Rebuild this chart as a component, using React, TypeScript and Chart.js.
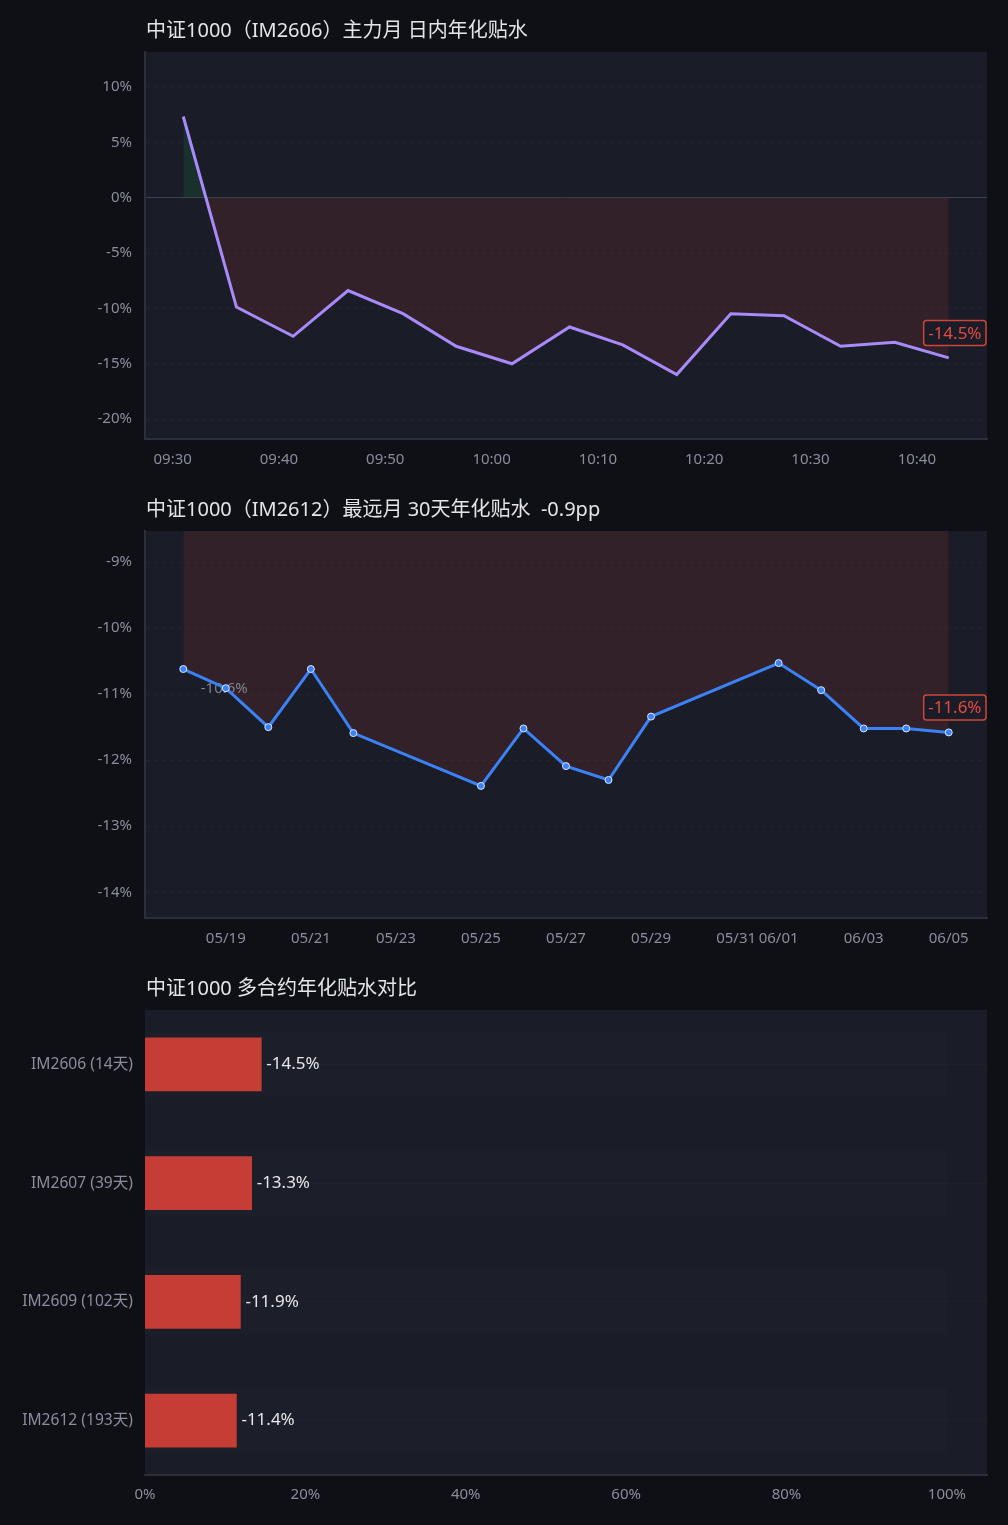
import React, { useEffect, useRef } from 'react';
import { Chart, registerables } from 'chart.js';

Chart.register(...registerables);

const FONT = '"Noto Sans", "Noto Sans CJK SC", sans-serif';
const PAGE_BG = '#0f1015';
const PLOT_BG = '#1a1c27';
const TICK_COLOR = '#8a8d9c';
const TITLE_COLOR = '#e4e4e8';
const AXIS_COLOR = '#2c2f3b';
const RED = '#c53d35';

// ---------- Chart 1: intraday ----------
const intradayTitle = '中证1000（IM2606）主力月 日内年化贴水';
const intradayTimes = [
  '09:31:00', '09:36:00', '09:41:20', '09:46:30', '09:51:40', '09:56:40', '10:01:55', '10:07:20',
  '10:12:20', '10:17:25', '10:22:30', '10:27:30', '10:32:50', '10:37:55', '10:43:00',
];
const intradayValues = [
  7.33, -9.88, -12.52, -8.39, -10.48, -13.42, -15.0, -11.68, -13.3, -15.97, -10.48, -10.66, -13.42, -13.06, -14.47,
];

// ---------- Chart 2: far month, 30 days ----------
const farTitle = '中证1000（IM2612）最远月 30天年化贴水  -0.9pp';
const farYear = 2026;
const farDates = [
  '05/18', '05/19', '05/20', '05/21', '05/22', '05/25', '05/26', '05/27', '05/28', '05/29',
  '06/01', '06/02', '06/03', '06/04', '06/05',
];
const farValues = [
  -10.62, -10.91, -11.5, -10.62, -11.59, -12.39, -11.52, -12.09, -12.3, -11.34, -10.53, -10.94, -11.52, -11.52, -11.58,
];
const farTickDates = ['05/19', '05/21', '05/23', '05/25', '05/27', '05/29', '05/31', '06/01', '06/03', '06/05'];

// ---------- Chart 3: contracts comparison ----------
const compareTitle = '中证1000 多合约年化贴水对比';
const contractLabels = ['IM2606 (14天)', 'IM2607 (39天)', 'IM2609 (102天)', 'IM2612 (193天)'];
const contractValues = [-14.5, -13.3, -11.9, -11.4];
const compareTicks = [0, 20, 40, 60, 80, 100];

// ---------- helpers ----------
const toMin = (s: string) => {
  const [h, m, sec] = s.split(':').map(Number);
  return h * 60 + m + (sec || 0) / 60;
};
const fmtMin = (v: number) => {
  const h = Math.floor(v / 60);
  const m = Math.round(v - h * 60);
  return String(h).padStart(2, '0') + ':' + String(m).padStart(2, '0');
};
const toDay = (s: string) => {
  const [mm, dd] = s.split('/').map(Number);
  return Date.UTC(farYear, mm - 1, dd) / 864e5;
};
const fmtDay = (v: number) => {
  const d = new Date(Math.round(v) * 864e5);
  return String(d.getUTCMonth() + 1).padStart(2, '0') + '/' + String(d.getUTCDate()).padStart(2, '0');
};
const yRange = (vals: number[]) => {
  const mn = Math.min(...vals);
  const mx = Math.max(...vals);
  const pad = Math.max((mx - mn) * 0.25, 2);
  return { min: mn - pad, max: mx + pad };
};
const xRange = (vals: number[]) => {
  const mn = Math.min(...vals);
  const mx = Math.max(...vals);
  const pad = (mx - mn) * 0.05;
  return { min: mn - pad, max: mx + pad };
};

const plotBgPlugin = {
  id: 'plotBg',
  beforeDraw(chart: any) {
    const { ctx, chartArea: a } = chart;
    ctx.save();
    ctx.fillStyle = PLOT_BG;
    ctx.fillRect(a.left, a.top, a.right - a.left, a.bottom - a.top);
    ctx.restore();
  },
};

const titlePlugin = (text: string) => ({
  id: 'panelTitle',
  afterDraw(chart: any) {
    const ctx = chart.ctx;
    ctx.save();
    ctx.font = `20px ${FONT}`;
    ctx.fillStyle = TITLE_COLOR;
    ctx.textAlign = 'left';
    ctx.textBaseline = 'middle';
    ctx.fillText(text, chart.chartArea.left + 1, 31);
    ctx.restore();
  },
});

const lastValuePlugin = (values: number[]) => ({
  id: 'lastValue',
  afterDatasetsDraw(chart: any) {
    const meta = chart.getDatasetMeta(0);
    const pt = meta.data[meta.data.length - 1];
    if (!pt) return;
    const ctx = chart.ctx;
    const text = values[values.length - 1].toFixed(1) + '%';
    ctx.save();
    ctx.font = `17px ${FONT}`;
    const w = ctx.measureText(text).width + 9;
    const h = 25;
    const right = chart.chartArea.right - 1;
    const left = right - w;
    const cy = pt.y - 25;
    const top = cy - h / 2;
    ctx.beginPath();
    if (ctx.roundRect) ctx.roundRect(left, top, w, h, 3);
    else ctx.rect(left, top, w, h);
    ctx.fillStyle = PLOT_BG;
    ctx.fill();
    ctx.lineWidth = 1.5;
    ctx.strokeStyle = '#d0443a';
    ctx.stroke();
    ctx.fillStyle = '#e8493e';
    ctx.textAlign = 'center';
    ctx.textBaseline = 'middle';
    ctx.fillText(text, left + w / 2, cy + 1);
    ctx.restore();
  },
});

const firstValuePlugin = (values: number[]) => ({
  id: 'firstValue',
  beforeDatasetDraw(chart: any, args: any) {
    if (args.index !== 0) return;
    const pt = chart.getDatasetMeta(0).data[0];
    if (!pt) return;
    const ctx = chart.ctx;
    ctx.save();
    ctx.font = `15px ${FONT}`;
    ctx.fillStyle = 'rgba(150,154,170,0.8)';
    ctx.textAlign = 'center';
    ctx.textBaseline = 'middle';
    ctx.fillText(values[0].toFixed(1) + '%', pt.x + 41, pt.y + 20);
    ctx.restore();
  },
});

const barValuePlugin = {
  id: 'barValues',
  afterDatasetsDraw(chart: any) {
    const meta = chart.getDatasetMeta(0);
    const ctx = chart.ctx;
    ctx.save();
    ctx.font = `17px ${FONT}`;
    ctx.fillStyle = '#e6e6ea';
    ctx.textAlign = 'left';
    ctx.textBaseline = 'middle';
    meta.data.forEach((bar: any, i: number) => {
      ctx.fillText(contractValues[i].toFixed(1) + '%', bar.x + 5, bar.y);
    });
    ctx.restore();
  },
};

const tickFont = { family: FONT, size: 15 };

const gridColor = (c: any) => (c.tick && c.tick.value === 0 ? '#3b3e4b' : 'rgba(255,255,255,0.03)');
const gridDash = (c: any) => (c.tick && c.tick.value === 0 ? [] : [4, 4]);

function lineConfig(opts: {
  title: string;
  xs: number[];
  ys: number[];
  color: string;
  points: boolean;
  xFormat: (v: number) => string;
  xStep?: number;
  xTicks?: number[];
  yStep: number;
  extraPlugins: any[];
}) {
  const xr = xRange(opts.xs);
  const yr = yRange(opts.ys);
  return {
    type: 'line',
    data: {
      datasets: [
        {
          data: opts.xs.map((x, i) => ({ x, y: opts.ys[i] })),
          borderColor: opts.color,
          borderWidth: 3,
          tension: 0,
          pointRadius: opts.points ? 3.5 : 0,
          pointBackgroundColor: opts.color,
          pointBorderColor: '#dbe6ff',
          pointBorderWidth: 1,
          fill: { target: 'origin', above: 'rgba(34,197,94,0.12)', below: 'rgba(231,76,60,0.12)' },
        },
      ],
    },
    options: {
      responsive: false,
      animation: false,
      layout: { padding: { top: 52, right: 21, bottom: 0, left: 0 } },
      plugins: { legend: { display: false }, tooltip: { enabled: false } },
      scales: {
        x: {
          type: 'linear',
          min: xr.min,
          max: xr.max,
          afterFit: (s: any) => {
            s.height = 40;
          },
          afterBuildTicks: opts.xTicks
            ? (s: any) => {
                s.ticks = opts.xTicks!.map((v) => ({ value: v }));
              }
            : undefined,
          ticks: {
            stepSize: opts.xStep,
            includeBounds: false,
            autoSkip: false,
            maxRotation: 0,
            color: TICK_COLOR,
            font: tickFont,
            padding: 12,
            callback: (v: any) => opts.xFormat(Number(v)),
          },
          grid: { display: false, drawTicks: false },
          border: { display: true, color: AXIS_COLOR, width: 2 },
        },
        y: {
          type: 'linear',
          min: yr.min,
          max: yr.max,
          afterFit: (s: any) => {
            s.width = 145;
          },
          ticks: {
            stepSize: opts.yStep,
            includeBounds: false,
            color: TICK_COLOR,
            font: tickFont,
            padding: 13,
            callback: (v: any) => `${Number(v)}%`,
          },
          grid: { color: gridColor, drawTicks: false, lineWidth: 1 },
          border: { display: true, color: AXIS_COLOR, width: 2, dash: gridDash },
        },
      },
    },
    plugins: [plotBgPlugin, titlePlugin(opts.title), lastValuePlugin(opts.ys), ...opts.extraPlugins],
  };
}

function makeIntraday() {
  return lineConfig({
    title: intradayTitle,
    xs: intradayTimes.map(toMin),
    ys: intradayValues,
    color: '#a78bfa',
    points: false,
    xFormat: fmtMin,
    xStep: 10,
    yStep: 5,
    extraPlugins: [],
  });
}

function makeFar() {
  return lineConfig({
    title: farTitle,
    xs: farDates.map(toDay),
    ys: farValues,
    color: '#3b82f6',
    points: true,
    xFormat: fmtDay,
    xTicks: farTickDates.map(toDay),
    yStep: 1,
    extraPlugins: [firstValuePlugin(farValues)],
  });
}

function makeCompare() {
  const idx = contractLabels.map((_, i) => i);
  const n = contractLabels.length;
  return {
    type: 'bar',
    data: {
      datasets: [
        {
          data: contractValues.map((v, i) => ({ x: Math.abs(v), y: i })),
          backgroundColor: RED,
          barThickness: 53,
          grouped: false,
          order: 0,
        },
        {
          data: idx.map((i) => ({ x: compareTicks[compareTicks.length - 1], y: i })),
          backgroundColor: 'rgba(255,255,255,0.012)',
          barThickness: 65,
          grouped: false,
          order: 1,
        },
      ],
    },
    options: {
      indexAxis: 'y',
      responsive: false,
      animation: false,
      layout: { padding: { top: 52, right: 21, bottom: 0, left: 0 } },
      plugins: { legend: { display: false }, tooltip: { enabled: false } },
      scales: {
        x: {
          type: 'linear',
          min: 0,
          max: 105,
          afterFit: (s: any) => {
            s.height = 50;
          },
          afterBuildTicks: (s: any) => {
            s.ticks = compareTicks.map((v) => ({ value: v }));
          },
          ticks: {
            color: TICK_COLOR,
            font: tickFont,
            padding: 11,
            maxRotation: 0,
            autoSkip: false,
            callback: (v: any) => `${Number(v)}%`,
          },
          grid: { display: false, drawTicks: false },
          border: { display: true, color: AXIS_COLOR, width: 2 },
        },
        y: {
          type: 'linear',
          reverse: true,
          offset: false,
          min: -0.458,
          max: n - 1 + 0.458,
          afterFit: (s: any) => {
            s.width = 145;
          },
          afterBuildTicks: (s: any) => {
            s.ticks = idx.map((v) => ({ value: v }));
          },
          ticks: {
            color: TICK_COLOR,
            font: { family: FONT, size: 15.6 },
            padding: 12,
            autoSkip: false,
            callback: (v: any) => contractLabels[Number(v)] ?? '',
          },
          grid: { color: 'rgba(255,255,255,0.03)', drawTicks: false, offset: false },
          border: { display: false, dash: [4, 4] },
        },
      },
    },
    plugins: [plotBgPlugin, titlePlugin(compareTitle), barValuePlugin],
  };
}

function ChartBox({ height, make }: { height: number; make: () => any }) {
  const ref = useRef<HTMLCanvasElement>(null);
  useEffect(() => {
    const chart = new Chart(ref.current as HTMLCanvasElement, make());
    return () => chart.destroy();
  }, []);
  return <canvas ref={ref} width={1008} height={height} style={{ display: 'block', width: 1008, height }} />;
}

export default function App() {
  useEffect(() => {
    document.body.style.margin = '0';
    document.body.style.background = PAGE_BG;
  }, []);
  return (
    <div style={{ position: 'absolute', left: 0, top: 0, width: 1008, height: 1525, background: PAGE_BG }}>
      <ChartBox height={479} make={makeIntraday} />
      <ChartBox height={479} make={makeFar} />
      <ChartBox height={567} make={makeCompare} />
    </div>
  );
}
